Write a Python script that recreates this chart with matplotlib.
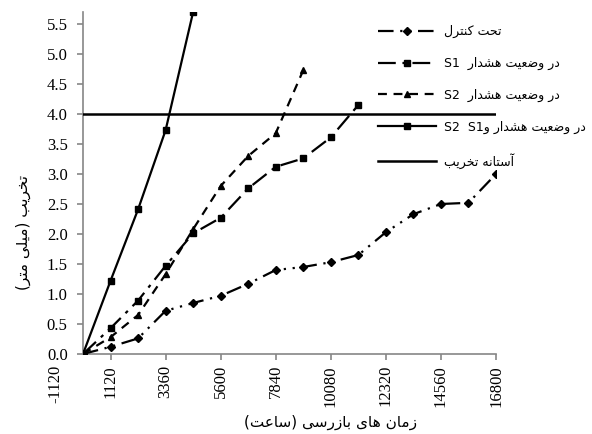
import re
import matplotlib
matplotlib.use("Agg")
from matplotlib import pyplot as plt
from matplotlib.transforms import blended_transform_factory

# inspection times (hours)
x_control = [0, 1120, 2240, 3360, 4480, 5600, 6720, 7840, 8960, 10080, 11200, 12320, 13440, 14560, 15680, 16800]
y_control = [0, 0.12, 0.26, 0.72, 0.85, 0.97, 1.17, 1.40, 1.45, 1.53, 1.65, 2.03, 2.33, 2.50, 2.52, 3.00]

x_s1 = [0, 1120, 2240, 3360, 4480, 5600, 6720, 7840, 8960, 10080, 11200]
y_s1 = [0, 0.43, 0.89, 1.47, 2.01, 2.27, 2.76, 3.12, 3.26, 3.61, 4.15]

x_s2 = [0, 1120, 2240, 3360, 4480, 5600, 6720, 7840, 8960]
y_s2 = [0, 0.28, 0.65, 1.33, 2.08, 2.80, 3.30, 3.68, 4.73]

x_s12 = [0, 1120, 2240, 3360, 4480]
y_s12 = [0, 1.22, 2.41, 3.73, 5.70]

x_limit = [0, 16800]
y_limit = [4.0, 4.0]

x_ticks = [1120, 3360, 5600, 7840, 10080, 12320, 14560, 16800]
y_ticks = [0, 0.5, 1.0, 1.5, 2.0, 2.5, 3.0, 3.5, 4.0, 4.5, 5.0, 5.5]

labels = ["تحت کنترل", "در وضعیت هشدار  S1", "در وضعیت هشدار  S2",
          "در وضعیت هشدار وS1  S2", "آستانه تخریب"]
xlabel = "زمان های بازرسی (ساعت)"
ylabel = "تخریب (میلی متر)"

# matplotlib has no arabic shaping / bidi, so do it by hand
FORMS = {
    'ا': ('\uFE8D', '\uFE8E'), 'آ': ('\uFE81', '\uFE82'),
    'د': ('\uFEA9', '\uFEAA'), 'ر': ('\uFEAD', '\uFEAE'),
    'ز': ('\uFEAF', '\uFEB0'), 'و': ('\uFEED', '\uFEEE'),
    'ب': ('\uFE8F', '\uFE90', '\uFE91', '\uFE92'),
    'ت': ('\uFE95', '\uFE96', '\uFE97', '\uFE98'),
    'ح': ('\uFEA1', '\uFEA2', '\uFEA3', '\uFEA4'),
    'خ': ('\uFEA5', '\uFEA6', '\uFEA7', '\uFEA8'),
    'س': ('\uFEB1', '\uFEB2', '\uFEB3', '\uFEB4'),
    'ش': ('\uFEB5', '\uFEB6', '\uFEB7', '\uFEB8'),
    'ض': ('\uFEBD', '\uFEBE', '\uFEBF', '\uFEC0'),
    'ع': ('\uFEC9', '\uFECA', '\uFECB', '\uFECC'),
    'ل': ('\uFEDD', '\uFEDE', '\uFEDF', '\uFEE0'),
    'م': ('\uFEE1', '\uFEE2', '\uFEE3', '\uFEE4'),
    'ن': ('\uFEE5', '\uFEE6', '\uFEE7', '\uFEE8'),
    'ه': ('\uFEE9', '\uFEEA', '\uFEEB', '\uFEEC'),
    'ی': ('\uFBFC', '\uFBFD', '\uFBFE', '\uFBFF'),
    'ک': ('\uFB8E', '\uFB8F', '\uFB90', '\uFB91'),
}
MIRROR = {'(': ')', ')': '('}


def fa(s):
    shaped = []
    for i, c in enumerate(s):
        if c not in FORMS:
            shaped.append(c)
            continue
        f = FORMS[c]
        prev = s[i - 1] if i > 0 else ''
        nxt = s[i + 1] if i + 1 < len(s) else ''
        jp = prev in FORMS and len(FORMS[prev]) == 4
        jn = len(f) == 4 and nxt in FORMS
        if jp and jn:
            shaped.append(f[3])
        elif jp:
            shaped.append(f[1])
        elif jn:
            shaped.append(f[2])
        else:
            shaped.append(f[0])
    shaped = ''.join(shaped)
    tokens = re.findall(r'[A-Za-z0-9.]+|[^A-Za-z0-9.]+', shaped)
    out = []
    for t in reversed(tokens):
        if re.match(r'[A-Za-z0-9.]', t):
            out.append(t)
        else:
            out.append(''.join(MIRROR.get(c, c) for c in reversed(t)))
    return ''.join(out)


fig = plt.figure(figsize=(5.92, 4.34), dpi=100)
ax = fig.add_axes([83 / 592, 1 - 354 / 434, 413 / 592, 342 / 434])

ax.plot(x_control, y_control, color='black', lw=1.6, ls=(0, (7, 3, 1, 3, 1, 3)),
        marker='D', ms=3.8, label=fa(labels[0]))
ax.plot(x_s1, y_s1, color='black', lw=1.6, ls=(0, (8, 3, 1.5, 3)),
        marker='s', ms=5, label=fa(labels[1]))
ax.plot(x_s2, y_s2, color='black', lw=1.6, ls=(0, (4, 3)),
        marker='^', ms=5, label=fa(labels[2]))
ax.plot(x_s12, y_s12, color='black', lw=1.6, marker='s', ms=5, label=fa(labels[3]))
ax.plot(x_limit, y_limit, color='black', lw=1.8, label=fa(labels[4]))

ax.set_xlim(0, 16800)
ax.set_ylim(0, 5.7)
ax.set_xticks(x_ticks)
ax.set_xticklabels([str(v) for v in x_ticks], rotation=90)
ax.set_yticks(y_ticks)
ax.set_yticklabels(['%.1f' % v for v in y_ticks])

for side in ['top', 'right']:
    ax.spines[side].set_visible(False)
for side in ['left', 'bottom']:
    ax.spines[side].set_color('#868686')
    ax.spines[side].set_linewidth(1.2)
    ax.spines[side].set_zorder(0)

ax.tick_params(axis='both', direction='out', length=4, width=1.2, color='#868686')
ax.tick_params(axis='x', pad=4)
ax.tick_params(axis='y', pad=7)
for t in ax.get_xticklabels() + ax.get_yticklabels():
    t.set_fontfamily('Liberation Serif')
    t.set_fontsize(12)

# excel puts one extra label left of the plot area
trans = blended_transform_factory(ax.transData, ax.transAxes)
ax.annotate('-1120', xy=(-1120, 0), xycoords=trans, xytext=(0, -8),
            textcoords='offset points', rotation=90, ha='center', va='top',
            family='Liberation Serif', fontsize=12, annotation_clip=False)

fig.text(331 / 592, 1 - 422 / 434, fa(xlabel), ha='center', va='center',
         fontsize=11, family='DejaVu Sans')
fig.text(23 / 592, 1 - 232 / 434, fa(ylabel), ha='center', va='center',
         rotation=90, fontsize=11, family='DejaVu Sans')

leg = ax.legend(loc='upper left', bbox_to_anchor=(378 / 592, 1 - 25 / 434),
                bbox_transform=fig.transFigure, frameon=False, fontsize=9,
                handlelength=4.6, handletextpad=0.7, labelspacing=1.5,
                borderpad=0, borderaxespad=0)

fig.savefig('out.png', dpi=100)
